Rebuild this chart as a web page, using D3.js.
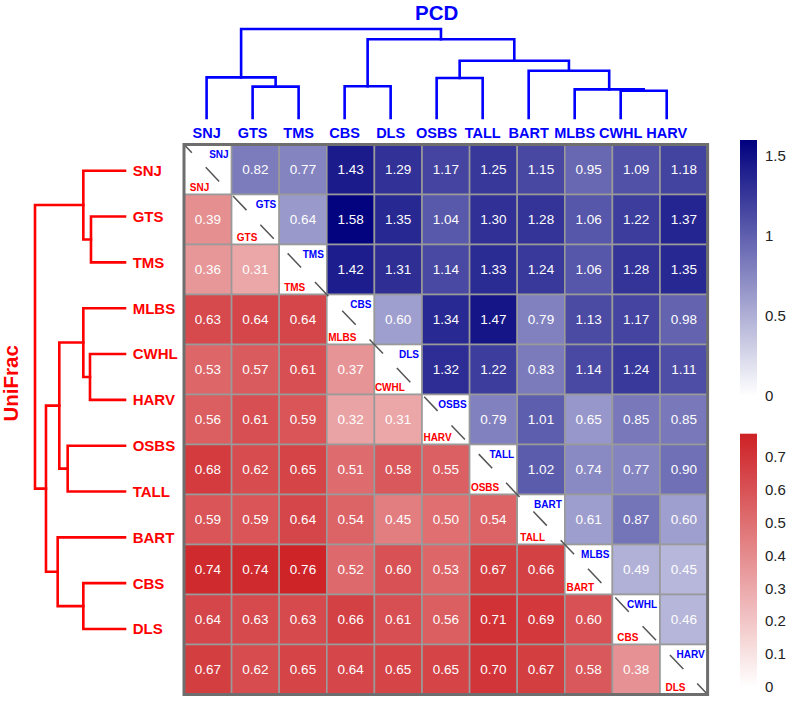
<!DOCTYPE html>
<html>
<head>
<meta charset="utf-8">
<script src="https://cdn.jsdelivr.net/npm/d3@7"></script>
<style>
  html, body { margin: 0; padding: 0; background: #ffffff; }
  svg { display: block; }
  text { font-family: "Liberation Sans", Arial, Helvetica, sans-serif; }
</style>
</head>
<body>
<script>
// ---------------- DATA ----------------
const colNames = ["SNJ","GTS","TMS","CBS","DLS","OSBS","TALL","BART","MLBS","CWHL","HARV"];
const rowNames = ["SNJ","GTS","TMS","MLBS","CWHL","HARV","OSBS","TALL","BART","CBS","DLS"];

// PCD values (upper triangle), row i, columns i+1..10
const pcdUpper = [
  [0.82,0.77,1.43,1.29,1.17,1.25,1.15,0.95,1.09,1.18],
  [0.64,1.58,1.35,1.04,1.30,1.28,1.06,1.22,1.37],
  [1.42,1.31,1.14,1.33,1.24,1.06,1.28,1.35],
  [0.60,1.34,1.47,0.79,1.13,1.17,0.98],
  [1.32,1.22,0.83,1.14,1.24,1.11],
  [0.79,1.01,0.65,0.85,0.85],
  [1.02,0.74,0.77,0.90],
  [0.61,0.87,0.60],
  [0.49,0.45],
  [0.46],
  []
];
// UniFrac values (lower triangle), row i, columns 0..i-1
const uniLower = [
  [],
  [0.39],
  [0.36,0.31],
  [0.63,0.64,0.64],
  [0.53,0.57,0.61,0.37],
  [0.56,0.61,0.59,0.32,0.31],
  [0.68,0.62,0.65,0.51,0.58,0.55],
  [0.59,0.59,0.64,0.54,0.45,0.50,0.54],
  [0.74,0.74,0.76,0.52,0.60,0.53,0.67,0.66],
  [0.64,0.63,0.63,0.66,0.61,0.56,0.71,0.69,0.60],
  [0.67,0.62,0.65,0.64,0.65,0.65,0.70,0.67,0.58,0.38]
];

// Dendrogram merges: [childA, childB, relative height]; new nodes named c1, c2, ...
const pcdMerges = [
  ["GTS","TMS",0.352],
  ["SNJ","c1",0.457],
  ["CBS","DLS",0.356],
  ["OSBS","TALL",0.449],
  ["CWHL","HARV",0.307],
  ["MLBS","c5",0.322],
  ["BART","c6",0.531],
  ["c4","c7",0.644],
  ["c3","c8",0.884],
  ["c2","c9",1.0]
];
const uniMerges = [
  ["GTS","TMS",0.378],
  ["SNJ","c1",0.463],
  ["CWHL","HARV",0.389],
  ["MLBS","c3",0.463],
  ["OSBS","TALL",0.637],
  ["c4","c5",0.730],
  ["CBS","DLS",0.463],
  ["BART","c7",0.748],
  ["c6","c8",0.878],
  ["c2","c9",1.0]
];

const pcdTicks = [0, 0.5, 1, 1.5];
const pcdTickLabels = ["0","0.5","1","1.5"];
const uniTicks = [0, 0.1, 0.2, 0.3, 0.4, 0.5, 0.6, 0.7];
const uniTickLabels = ["0","0.1","0.2","0.3","0.4","0.5","0.6","0.7"];

// ---------------- CHART ----------------
const W = 789, H = 701;
const svg = d3.select("body").append("svg").attr("width", W).attr("height", H);

const BLUE = "#0000ff", RED = "#ff0000";
const blueScale = d3.scaleLinear().domain([0, 1.6]).range(["#ffffff", "#00007e"]);
const redScale = d3.scaleLinear().domain([0, 0.77]).range(["#ffffff", "#cd2125"]);

const x = d3.scaleBand().domain(d3.range(11)).range([184, 707.6]);
const y = d3.scaleBand().domain(d3.range(11)).range([144.5, 694.5]);

// build cell table
const cells = [];
for (let i = 0; i < 11; i++) {
  for (let j = 0; j < 11; j++) {
    if (j > i) cells.push({ i, j, v: pcdUpper[i][j - i - 1], type: "pcd" });
    else if (j < i) cells.push({ i, j, v: uniLower[i][j], type: "uni" });
    else cells.push({ i, j, v: null, type: "diag" });
  }
}
const fmt = d3.format(".2f");

const gCells = svg.append("g");
gCells.selectAll("rect").data(cells).join("rect")
  .attr("x", d => x(d.j)).attr("y", d => y(d.i))
  .attr("width", x.bandwidth()).attr("height", y.bandwidth())
  .attr("fill", d => d.type === "pcd" ? blueScale(d.v) : d.type === "uni" ? redScale(d.v) : "#ffffff")
  .attr("stroke", "#9a9a9a").attr("stroke-width", 1.6);

gCells.selectAll("text.val").data(cells.filter(d => d.type !== "diag")).join("text")
  .attr("class", "val")
  .attr("x", d => x(d.j) + x.bandwidth() / 2)
  .attr("y", d => y(d.i) + y.bandwidth() / 2)
  .attr("dy", "0.36em")
  .attr("text-anchor", "middle")
  .attr("fill", "#ffffff")
  .attr("font-size", 13.5)
  .text(d => fmt(d.v));

// dashed diagonal
svg.append("line")
  .attr("x1", x(0)).attr("y1", y(0))
  .attr("x2", x(10) + x.bandwidth()).attr("y2", y(10) + y.bandwidth())
  .attr("stroke", "#555555").attr("stroke-width", 1.5)
  .attr("stroke-dasharray", "19.5,20.1").attr("stroke-dashoffset", 8.1);

const diag = cells.filter(d => d.type === "diag");
svg.append("g").selectAll("text").data(diag).join("text")
  .attr("x", d => x(d.j) + x.bandwidth() - 3)
  .attr("y", d => y(d.i) + 13.5)
  .attr("text-anchor", "end")
  .attr("font-size", 10).attr("font-weight", "bold")
  .attr("fill", BLUE)
  .text(d => colNames[d.j]);
svg.append("g").selectAll("text").data(diag).join("text")
  .attr("x", d => x(d.j) + 15.5)
  .attr("y", d => y(d.i) + y.bandwidth() - 4)
  .attr("text-anchor", "middle")
  .attr("font-size", 10).attr("font-weight", "bold")
  .attr("fill", RED)
  .text(d => rowNames[d.i]);

// frame
svg.append("rect")
  .attr("x", x(0)).attr("y", y(0))
  .attr("width", x.range()[1] - x.range()[0]).attr("height", y.range()[1] - y.range()[0])
  .attr("fill", "none").attr("stroke", "#6e6e6e").attr("stroke-width", 3);

// ---------------- DENDROGRAMS ----------------
function buildNodes(merges, leafPos) {
  const nodes = {};
  leafPos.domain().forEach(n => nodes[n] = { p: leafPos(n), h: 0 });
  merges.forEach((m, k) => {
    const a = nodes[m[0]], b = nodes[m[1]];
    nodes["c" + (k + 1)] = { p: (a.p + b.p) / 2, h: m[2], a, b };
  });
  return merges.map((m, k) => nodes["c" + (k + 1)]);
}

// top (PCD)
const topLeaf = d3.scalePoint().domain(colNames).range([206.6, 666.7]);
const topH = d3.scaleLinear().domain([0, 1]).range([118, 29]);
const topNodes = buildNodes(pcdMerges, topLeaf);
svg.append("g").selectAll("path").data(topNodes).join("path")
  .attr("d", n => `M${n.a.p},${topH(n.a.h)}V${topH(n.h)}H${n.b.p}V${topH(n.b.h)}`)
  .attr("fill", "none").attr("stroke", BLUE).attr("stroke-width", 2.6)
  .attr("stroke-linejoin", "miter").attr("stroke-linecap", "square");

svg.append("g").selectAll("text").data(colNames).join("text")
  .attr("x", d => topLeaf(d)).attr("y", 138.3)
  .attr("text-anchor", "middle")
  .attr("font-size", 14.5).attr("font-weight", "bold")
  .attr("fill", BLUE).text(d => d);

svg.append("text").attr("x", 436.7).attr("y", 20)
  .attr("text-anchor", "middle").attr("font-size", 20.5).attr("font-weight", "bold")
  .attr("fill", BLUE).text("PCD");

// left (UniFrac)
const leftLeaf = d3.scalePoint().domain(rowNames).range([170.7, 629]);
const leftH = d3.scaleLinear().domain([0, 1]).range([125, 35]);
const leftNodes = buildNodes(uniMerges, leftLeaf);
svg.append("g").selectAll("path").data(leftNodes).join("path")
  .attr("d", n => `M${leftH(n.a.h)},${n.a.p}H${leftH(n.h)}V${n.b.p}H${leftH(n.b.h)}`)
  .attr("fill", "none").attr("stroke", RED).attr("stroke-width", 2.6)
  .attr("stroke-linejoin", "miter").attr("stroke-linecap", "square");

svg.append("g").selectAll("text").data(rowNames).join("text")
  .attr("x", 132.7).attr("y", d => leftLeaf(d))
  .attr("dy", "0.36em")
  .attr("font-size", 15).attr("font-weight", "bold")
  .attr("fill", RED).text(d => d);

svg.append("text")
  .attr("transform", "translate(18,383.3) rotate(-90)")
  .attr("text-anchor", "middle").attr("font-size", 20.5).attr("font-weight", "bold")
  .attr("fill", RED).text("UniFrac");

// ---------------- LEGENDS ----------------
const defs = svg.append("defs");
function legend(id, scale, yScale, ticks, labels) {
  const dom = scale.domain();
  const grad = defs.append("linearGradient").attr("id", id)
    .attr("x1", 0).attr("y1", 1).attr("x2", 0).attr("y2", 0);
  d3.range(0, 1.0001, 0.1).forEach(t => {
    grad.append("stop").attr("offset", t).attr("stop-color", scale(dom[0] + t * (dom[1] - dom[0])));
  });
  svg.append("rect")
    .attr("x", 740).attr("width", 17)
    .attr("y", yScale(dom[1])).attr("height", yScale(dom[0]) - yScale(dom[1]))
    .attr("fill", `url(#${id})`);
  svg.append("g").selectAll("text").data(ticks).join("text")
    .attr("x", 765).attr("y", d => yScale(d)).attr("dy", "0.36em")
    .attr("font-size", 15).attr("fill", "#222222")
    .text((d, k) => labels[k]);
}
legend("gBlue", blueScale, d3.scaleLinear().domain([0, 1.6]).range([396, 140]), pcdTicks, pcdTickLabels);
legend("gRed", redScale, d3.scaleLinear().domain([0, 0.77]).range([686.7, 433.7]), uniTicks, uniTickLabels);
</script>
</body>
</html>
